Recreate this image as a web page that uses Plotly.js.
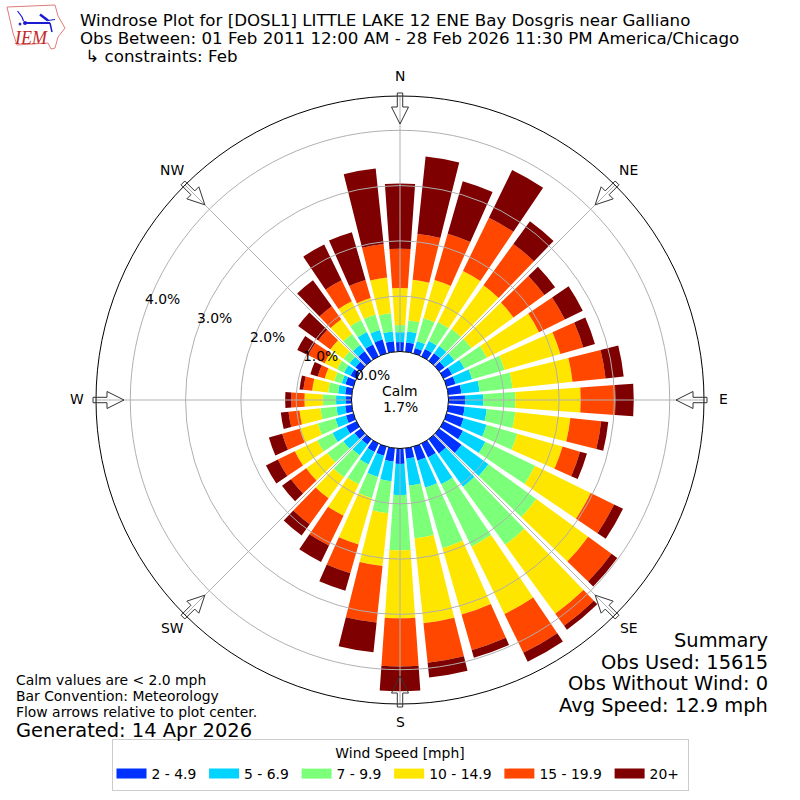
<!DOCTYPE html>
<html>
<head>
<meta charset="utf-8">
<script src="https://cdn.plot.ly/plotly-3.0.1.min.js"></script>
<style>html,body{margin:0;padding:0;background:#fff}</style>
</head>
<body>
<div id="chart" style="width:800px;height:800px"></div>
<script>
const directions = [0,10,20,30,40,50,60,70,80,90,100,110,120,130,140,150,160,170,180,190,200,210,220,230,240,250,260,270,280,290,300,310,320,330,340,350];
const speedLabels = ["2 - 4.9\u2009","5 - 6.9\u2009","7 - 9.9\u2009","10 - 14.9\u2009","15 - 19.9\u2009","20+\u2009"];
const speedColors = ["#0032ff","#00d4ff","#7cff79","#ffe600","#ff4700","#7f0000"];
const s2to5 = [.17,.17,.10,.15,.17,.12,.17,.17,.24,.30,.30,.32,.39,.50,.32,.28,.26,.19,.28,.24,.17,.17,.12,.14,.21,.14,.12,.10,.12,.15,.12,.12,.21,.24,.26,.19];
const s5to7 = [.18,.20,.13,.16,.16,.22,.25,.31,.33,.33,.40,.43,.45,.60,.74,.54,.51,.49,.56,.36,.40,.25,.24,.25,.27,.20,.16,.18,.13,.07,.13,.13,.14,.25,.18,.18];
const s7to10 = [.13,.20,.43,.38,.38,.38,.45,.61,.60,.58,.52,.58,1.00,1.07,1.30,1.25,1.14,.96,1.00,.58,.40,.40,.49,.36,.31,.33,.29,.24,.18,.14,.14,.14,.25,.24,.29,.33];
const s10to15 = [.67,.74,.72,1.03,.98,.94,1.05,1.05,1.09,1.18,1.00,.85,1.12,1.16,1.54,1.36,1.25,1.54,1.23,.96,.87,.63,.47,.47,.45,.34,.38,.33,.29,.18,.25,.29,.33,.38,.31,.65];
const s15to20 = [.71,.83,.87,1.07,.92,.69,.52,.43,.60,.63,.56,.33,.47,.52,.27,.78,.67,.72,.87,1.03,.54,.60,.58,.34,.34,.33,.20,.24,.16,.13,.33,.27,.29,.42,.34,.61];
const s20plus = [1.18,1.41,.99,.96,.51,.24,.36,.22,.33,.33,.13,.13,.18,.13,.09,.18,.14,.27,.45,.54,.33,.33,.25,.20,.24,.25,.14,.11,.07,.14,.22,.45,.58,.72,.90,1.37];
const speedSeries = [s2to5,s5to7,s7to10,s10to15,s15to20,s20plus];
const compassVals = [0,45,90,135,180,225,270,315];
const compassText = ["N","NE","E","SE","S","SW","W","NW"];
const radialTicks = [0,1,2,3,4];
const radialText = ["0.0%","1.0%","2.0%","3.0%","4.0%"];

const FONT = "DejaVu Sans";
const fx = p => p/800, fy = p => 1-p/800;
const dom = {x:[fx(96),fx(704)], y:[fy(704),fy(96)]};
const RANGE = [0,4.62], HOLE = 48.5/304;

const traces = [];
speedSeries.forEach((vals,i)=>{
  traces.push({type:"barpolar", subplot:"polar", r:vals, theta:directions, width:8,
    name:speedLabels[i], legendgroup:speedLabels[i], showlegend:false,
    marker:{color:speedColors[i], line:{width:0}}, hoverinfo:"none"});
});
speedSeries.forEach((vals,i)=>{
  traces.push({type:"scatterpolar", subplot:"polar2", mode:"lines", r:[0], theta:[0],
    name:speedLabels[i], legendgroup:speedLabels[i], showlegend:true,
    line:{color:speedColors[i], width:10}, hoverinfo:"none"});
});

function ann(text,x,y,size,xanchor,extra){
  return Object.assign({text, x:fx(x), y:fy(y), xref:"paper", yref:"paper", showarrow:false,
    xanchor:xanchor||"center", yanchor:"middle", align:xanchor||"center",
    font:{family:FONT,size:size,color:"#000"}, borderpad:0}, extra||{});
}
const annotations = [
  ann("Windrose Plot for [DOSL1] LITTLE LAKE 12 ENE Bay Dosgris near Galliano",79,21,16.67,"left"),
  ann("Obs Between: 01 Feb 2011 12:00 AM - 28 Feb 2026 11:30 PM America/Chicago",79,38.5,16.67,"left"),
  ann(" ↳ constraints: Feb",79,56,16.67,"left"),
  ann("Calm",400,391,13.9),
  ann("1.7%",400,407,13.9),
  ann("Summary",769,640,19.44,"right"),
  ann("Obs Used: 15615",769,662,19.44,"right"),
  ann("Obs Without Wind: 0",769,683.5,19.44,"right"),
  ann("Avg Speed: 12.9 mph",769,705,19.44,"right"),
  ann("Calm values are &lt; 2.0 mph",15,680,13.9,"left"),
  ann("Bar Convention: Meteorology",15,696,13.9,"left"),
  ann("Flow arrows relative to plot center.",15,712,13.9,"left"),
  ann("Generated: 14 Apr 2026",15,730,19.44,"left"),
  ann("<i>IEM</i>",30.5,38,18,"center",{font:{family:"Liberation Serif",size:18,color:"#c62828"}})
];
const labelPos = [[400,76],[628,170],[723,399],[629,628],[400,722],[172,628],[77,399],[172,170]];
compassText.forEach((t,i)=>annotations.push(ann(t,labelPos[i][0],labelPos[i][1],13.9)));
const tickPos = [[372,375],[320,356],[267,337],[214,318],[162,299]];
radialText.forEach((t,i)=>annotations.push(ann(t,tickPos[i][0],tickPos[i][1],13.9)));

/* flow arrows: drawn in a local frame, tip towards the plot centre */
const arrowShape = [[276,0],[293,-8.5],[293,-2.7],[307,-2.7],[307,2.7],[293,2.7],[293,8.5]];
const shapes = compassVals.map(a=>{
  const t = a*Math.PI/180;
  const pts = arrowShape.map(([r,w])=>{
    const px = 400 + r*Math.sin(t) + w*Math.cos(t);
    const py = 400 - r*Math.cos(t) + w*Math.sin(t);
    return fx(px).toFixed(5)+","+fy(py).toFixed(5);
  });
  return {type:"path", xref:"paper", yref:"paper", path:"M"+pts.join("L")+"Z",
    fillcolor:"rgba(255,255,255,0)", line:{color:"#333",width:1}};
});
function pxPath(pts,close){
  return "M"+pts.map(p=>fx(p[0]).toFixed(5)+","+fy(p[1]).toFixed(5)).join("L")+(close?"Z":"");
}
function logoLine(pts,w){
  shapes.push({type:"path",xref:"paper",yref:"paper",path:pxPath(pts,false),line:{color:"#1a1ad0",width:w}});
}
/* logo */
shapes.push({type:"path",xref:"paper",yref:"paper",
  path:pxPath([[7,7],[55,5],[58,16],[65,28],[58,37],[55,48],[51,49],[48,43],[17,45],[13,33],[10,20]],true),
  fillcolor:"#fff",line:{color:"#e07c7c",width:1}});
logoLine([[25,23],[50,23]],2);
logoLine([[17.5,11],[22,17],[23.5,21]],1.2);
logoLine([[40,14.5],[48,20.5]],2.5);
logoLine([[48,20.5],[55,19.5]],1);
logoLine([[50,23],[52,32]],1.5);
shapes.push({type:"circle",xref:"paper",yref:"paper",x0:fx(23),x1:fx(27),y0:fy(25),y1:fy(21),fillcolor:"#1a1ad0",line:{width:0}});
shapes.push({type:"circle",xref:"paper",yref:"paper",x0:fx(18.5),x1:fx(21.5),y0:fy(25.5),y1:fy(22.5),fillcolor:"#3a3aa0",line:{width:0}});

const layout = {
  width:800, height:800, margin:{l:0,r:0,t:0,b:0}, paper_bgcolor:"#fff",
  font:{family:FONT,size:13.9,color:"#000"},
  polar:{domain:dom, hole:HOLE, bgcolor:"#fff", barmode:"stack",
    radialaxis:{visible:false, range:RANGE},
    angularaxis:{visible:false, direction:"clockwise", rotation:90}},
  polar2:{domain:dom, hole:HOLE, bgcolor:"rgba(0,0,0,0)",
    radialaxis:{range:RANGE, tickmode:"array", tickvals:radialTicks, ticktext:radialText, showticklabels:false,
      ticks:"", showline:false, showgrid:true, gridcolor:"#b0b0b0", gridwidth:1},
    angularaxis:{direction:"clockwise", rotation:90, tickmode:"array", tickvals:compassVals, ticktext:compassText,
      showticklabels:false, ticks:"", showgrid:true, gridcolor:"#b0b0b0", gridwidth:1,
      showline:true, linecolor:"#000", linewidth:1}},
  showlegend:true,
  legend:{orientation:"h", x:0.5, xanchor:"center", y:fy(791), yanchor:"bottom",
    bgcolor:"#fff", bordercolor:"#ccc", borderwidth:1, itemwidth:30, itemclick:false, itemdoubleclick:false,
    font:{family:FONT,size:13.9}, title:{text:"Wind Speed [mph]", side:"top center", font:{family:FONT,size:13.9}}},
  annotations, shapes
};
Plotly.newPlot("chart",traces,layout,{displayModeBar:false,staticPlot:true});
</script>
</body>
</html>
